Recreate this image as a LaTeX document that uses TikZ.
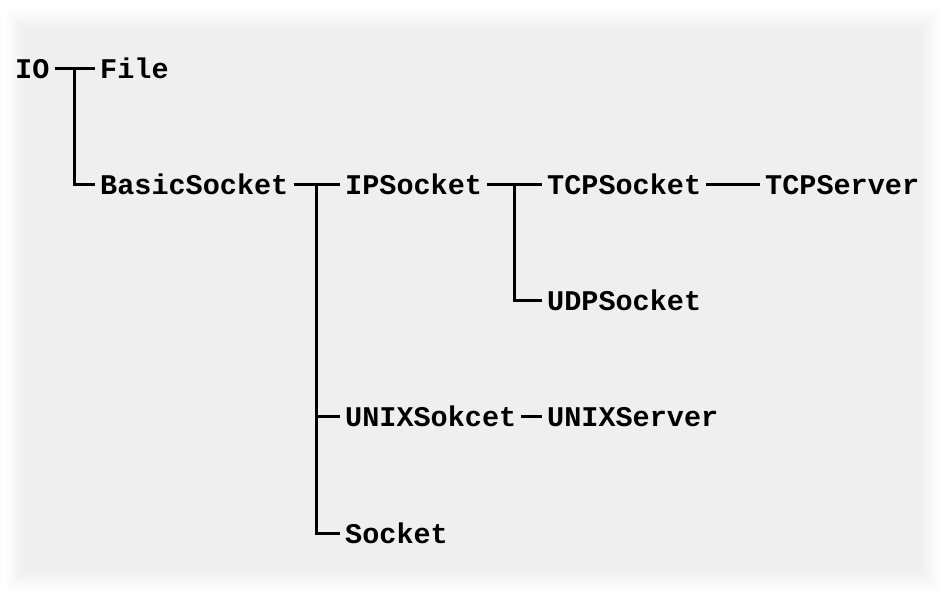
\documentclass[tikz,border=0pt]{standalone}
\usepackage{fontspec}
\setmonofont{Liberation Mono}
\usetikzlibrary{calc,positioning}
\definecolor{panelgray}{RGB}{239,239,239}

\begin{document}
\begin{tikzpicture}[x=1pt,y=-1pt,
  cls/.style={anchor=west,inner xsep=5pt,inner ysep=0pt,text height=20pt,text depth=0pt,
    font=\fontsize{28.5}{34}\selectfont\ttfamily\bfseries},
  link/.style={line width=3pt}]
\useasboundingbox (0,0) rectangle (944,594);
% soft panel behind the tree
\fill[white] (0,0) rectangle (944,594);
\foreach \i in {0,...,10}{
  \pgfmathsetmacro{\d}{\i*2}
  \pgfmathsetmacro{\m}{\i*10}
  \fill[panelgray!\m!white] (4+\d,8+\d) rectangle (942-\d,592-\d);
}
% classes
\node[cls] (io) at (10,68) {IO};
\node[cls] (file) at (95,68) {File};
\node[cls] (basic) at (95,184) {BasicSocket};
\node[cls] (ipsock) at (340,184) {IPSocket};
\node[cls] (tcpsock) at (542,184) {TCPSocket};
\node[cls] (tcpserv) at (760,184) {TCPServer};
\node[cls] (udpsock) at (542,300) {UDPSocket};
\node[cls] (unixsock) at (340,416) {UNIXSokcet};
\node[cls] (unixserv) at (542,416) {UNIXServer};
\node[cls] (sock) at (340,533) {Socket};
% branches
\draw[link] (io) -- (file);
\draw[link] ($(io.east)!0.5!(file.west)$) |- (basic);
\draw[link] (basic) -- (ipsock);
\draw[link] ($(basic.east)!0.5!(ipsock.west)$) |- (unixsock);
\draw[link] ($(basic.east)!0.5!(ipsock.west)$) |- (sock);
\draw[link] (ipsock) -- (tcpsock);
\draw[link] ($(ipsock.east)!0.5!(tcpsock.west)$) |- (udpsock);
\draw[link] (tcpsock) -- (tcpserv);
\draw[link] (unixsock) -- (unixserv);
\end{tikzpicture}
\end{document}
